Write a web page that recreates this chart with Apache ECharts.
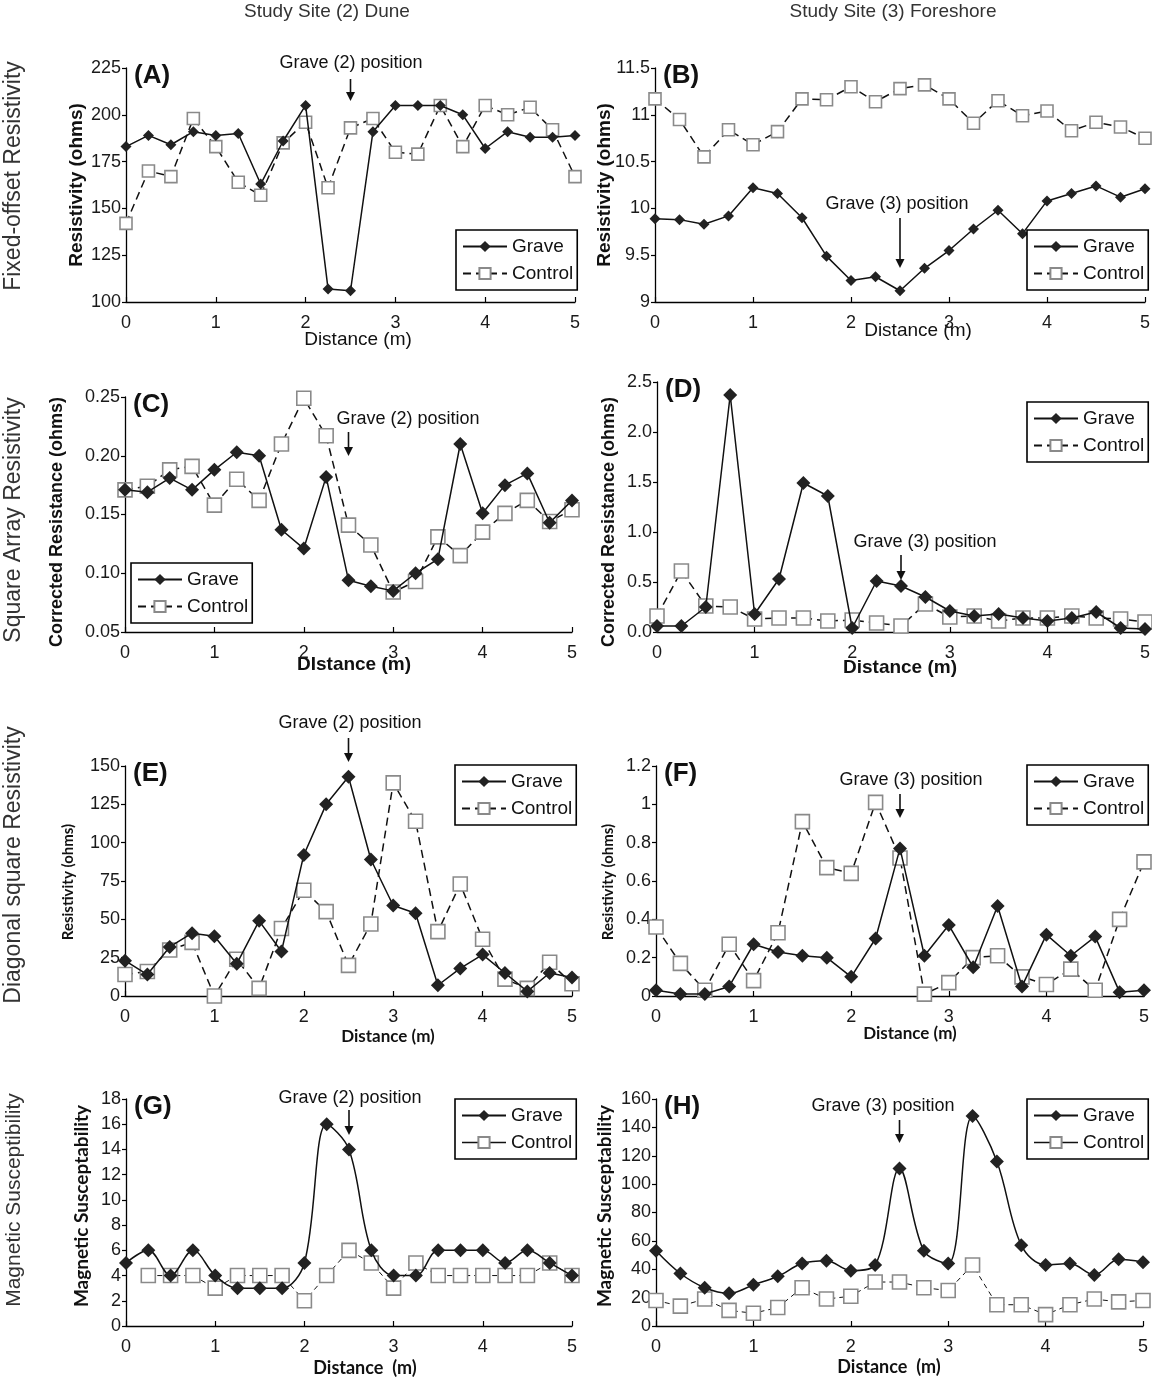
<!DOCTYPE html>
<html><head><meta charset="utf-8">
<script src="https://cdn.jsdelivr.net/npm/echarts@6/dist/echarts.min.js"></script>
<style>html,body{margin:0;padding:0;background:#fff}#c{width:1152px;height:1381px}</style>
</head><body><div id="c"></div>
<script>
// ---------- DATA ----------
const distance = [0,0.25,0.5,0.75,1,1.25,1.5,1.75,2,2.25,2.5,2.75,3,3.25,3.5,3.75,4,4.25,4.5,4.75,5];
const graveA = [183,189,184,191,189,190,163,186,205,107,106,191,205,205,205,200,182,191,188,188,189];
const controlA = [142,170,167,198,183,164,157,185,196,161,193,198,180,179,205,183,205,200,204,192,167];
const graveB = [9.89,9.88,9.83,9.92,10.22,10.16,9.90,9.49,9.23,9.27,9.12,9.36,9.55,9.78,9.98,9.73,10.08,10.16,10.24,10.12,10.21];
const controlB = [11.17,10.95,10.55,10.84,10.68,10.82,11.17,11.16,11.30,11.14,11.28,11.32,11.17,10.91,11.15,10.99,11.04,10.83,10.92,10.87,10.75];
const graveC = [0.171,0.169,0.181,0.171,0.188,0.203,0.200,0.137,0.121,0.182,0.094,0.089,0.085,0.100,0.112,0.210,0.151,0.175,0.185,0.143,0.162];
const controlC = [0.171,0.174,0.188,0.191,0.158,0.180,0.162,0.210,0.249,0.217,0.141,0.124,0.084,0.093,0.131,0.115,0.135,0.151,0.162,0.144,0.154];
const graveD = [0.06,0.06,0.25,2.37,0.18,0.53,1.49,1.36,0.04,0.51,0.46,0.35,0.21,0.16,0.18,0.14,0.11,0.14,0.20,0.04,0.03];
const controlD = [0.16,0.61,0.26,0.25,0.13,0.14,0.14,0.11,0.12,0.09,0.06,0.28,0.15,0.16,0.11,0.14,0.14,0.16,0.14,0.13,0.10];
const graveE = [23,14,32,41,39,21,49,29,92,125,143,89,59,54,7,18,27,15,3,15,12];
const controlE = [14,16,30,35,0,24,5,44,69,55,20,47,139,114,42,73,37,11,5,22,8];
const graveF = [0.03,0.01,0.01,0.05,0.27,0.23,0.21,0.20,0.10,0.30,0.77,0.21,0.37,0.15,0.47,0.05,0.32,0.21,0.31,0.02,0.03];
const controlF = [0.36,0.17,0.03,0.27,0.08,0.33,0.91,0.67,0.64,1.01,0.72,0.01,0.07,0.20,0.21,0.10,0.06,0.14,0.03,0.40,0.70];
const graveG = [5,6,4,6,4,3,3,3,5,16,14,6,4,4,6,6,6,5,6,5,4];
const controlG = [null,4,4,4,3,4,4,4,2,4,6,5,3,5,4,4,4,4,4,5,4];
const graveH = [53,37,27,23,29,35,44,46,39,43,111,53,44,148,116,57,43,44,36,47,45];
const controlH = [18,14,19,11,9,13,27,19,21,31,31,27,25,43,15,15,8,15,19,17,18];
const graveMarkerX = 2.5;
const columnTitles = ['Study Site (2) Dune', 'Study Site (3) Foreshore'];
const rowTitles = ['Fixed-offset Resistivity', 'Square Array Resistivity', 'Diagonal square Resistivity', 'Magnetic Susceptibility'];

// ---------- LAYOUT ----------
const ARIAL = '"Liberation Sans", Arial, sans-serif';
const CAL = 'Lato, "Liberation Sans", sans-serif';
const panels = [
  {lab:'(A)', g:graveA, c:controlA, grid:[126,68,449,234], y:[100,225,25], fmt:null,
   yt:{t:'Resistivity (ohms)', x:77, y:185, f:ARIAL, s:19}, xt:{t:'Distance (m)', x:358, y:340, f:ARIAL, s:19, w:'normal'},
   ann:{t:'Grave (2) position', x:351, y:63, a1:79, a2:101}, leg:[456,230], gs:11, cs:12},
  {lab:'(B)', g:graveB, c:controlB, grid:[655,68,490,234], y:[9,11.5,0.5], fmt:null,
   yt:{t:'Resistivity (ohms)', x:605, y:185, f:ARIAL, s:19}, xt:{t:'Distance (m)', x:918, y:331, f:ARIAL, s:19, w:'normal'},
   ann:{t:'Grave (3) position', x:897, y:204, a1:218, a2:268}, leg:[1027,230], gs:11, cs:12},
  {lab:'(C)', g:graveC, c:controlC, grid:[125,397,447,235], y:[0.05,0.25,0.05], fmt:2,
   yt:{t:'Corrected Resistance (ohms)', x:57, y:522, f:ARIAL, s:18}, xt:{t:'DIstance (m)', x:354, y:665, f:ARIAL, s:19, w:'bold'},
   ann:{t:'Grave (2) position', x:408, y:419, a1:432, a2:456}, leg:[131,563], gs:14, cs:14},
  {lab:'(D)', g:graveD, c:controlD, grid:[657,382,488,250], y:[0,2.5,0.5], fmt:1,
   yt:{t:'Corrected Resistance (ohms)', x:609, y:522, f:ARIAL, s:18}, xt:{t:'Distance (m)', x:900, y:668, f:ARIAL, s:19, w:'bold'},
   ann:{t:'Grave (3) position', x:925, y:542, a1:555, a2:580}, leg:[1027,402], gs:14, cs:14},
  {lab:'(E)', g:graveE, c:controlE, grid:[125,766,447,230], y:[0,150,25], fmt:null,
   yt:{t:'Resistivity (ohms)', x:68, y:882, f:CAL, s:15}, xt:{t:'Distance (m)', x:388, y:1037, f:CAL, s:17, w:'bold'},
   ann:{t:'Grave (2) position', x:350, y:723, a1:738, a2:762}, leg:[455,765], gs:14, cs:14},
  {lab:'(F)', g:graveF, c:controlF, grid:[656,766,488,230], y:[0,1.2,0.2], fmt:null,
   yt:{t:'Resistivity (ohms)', x:608, y:882, f:CAL, s:15}, xt:{t:'Distance (m)', x:910, y:1034, f:CAL, s:17, w:'bold'},
   ann:{t:'Grave (3) position', x:911, y:780, a1:794, a2:818}, leg:[1027,765], gs:14, cs:14},
  {lab:'(G)', g:graveG, c:controlG, grid:[126,1099,446,227], y:[0,18,2], fmt:null, smooth:true,
   yt:{t:'Magnetic Susceptability', x:82, y:1206, f:CAL, s:19}, xt:{t:'Distance  (m)', x:365, y:1368, f:CAL, s:18, w:'bold'},
   ann:{t:'Grave (2) position', x:350, y:1098, a1:1110, a2:1135}, leg:[455,1099], gs:14, cs:14},
  {lab:'(H)', g:graveH, c:controlH, grid:[656,1099,487,227], y:[0,160,20], fmt:null, smooth:true,
   yt:{t:'Magnetic Susceptability', x:605, y:1206, f:CAL, s:19}, xt:{t:'Distance  (m)', x:889, y:1367, f:CAL, s:18, w:'bold'},
   ann:{t:'Grave (3) position', x:883, y:1106, a1:1120, a2:1143}, leg:[1027,1099], gs:14, cs:14}
];

const chart = echarts.init(document.getElementById('c'), null, {renderer:'canvas'});
const grids = [], xAxes = [], yAxes = [], series = [], legends = [];
panels.forEach((p, i) => {
  grids.push({left:p.grid[0], top:p.grid[1], width:p.grid[2], height:p.grid[3], containLabel:false, outerBoundsMode:'none'});
  xAxes.push({gridIndex:i, type:'value', min:0, max:5, interval:1,
    axisLine:{show:true, onZero:false, lineStyle:{color:'#000', width:1.3}},
    axisTick:{show:true, inside:true, length:5, lineStyle:{color:'#000', width:1.2}},
    axisLabel:{fontSize:18, color:'#1a1a1a', fontFamily:ARIAL, margin:12, showMinLabel:true, showMaxLabel:true, hideOverlap:false},
    splitLine:{show:false}});
  yAxes.push({gridIndex:i, type:'value', min:p.y[0], max:p.y[1], interval:p.y[2],
    axisLine:{show:true, onZero:false, lineStyle:{color:'#000', width:1.3}},
    axisTick:{show:true, length:4, lineStyle:{color:'#000', width:1.2}},
    axisLabel:{fontSize:18, color:'#1a1a1a', fontFamily:ARIAL, margin:5, showMinLabel:true, showMaxLabel:true, hideOverlap:false,
      formatter: p.fmt == null ? (v => String(+v.toFixed(3))) : (v => v.toFixed(p.fmt))},
    splitLine:{show:false}});
  series.push({name:'Control', type:'line', xAxisIndex:i, yAxisIndex:i,
    data: distance.map((d,k) => [d, p.c[k]]), connectNulls:false,
    symbol:'rect', symbolSize:p.cs, showSymbol:true, showAllSymbol:true,
    itemStyle:{color:'#fff', borderColor:'#8a8a8a', borderWidth:1.6},
    lineStyle:{color:'#111', width: p.smooth ? 1 : 1.5, type: p.smooth ? [5,4] : [8,5]},
    z:2, animation:false, emphasis:{disabled:true}});
  series.push({name:'Grave', type:'line', xAxisIndex:i, yAxisIndex:i,
    data: distance.map((d,k) => [d, p.g[k]]),
    symbol:'diamond', symbolSize:p.gs, showSymbol:true, showAllSymbol:true,
    smooth: p.smooth ? 0.35 : false,
    itemStyle:{color:'#222'},
    lineStyle:{color:'#111', width:1.5},
    z:3, animation:false, emphasis:{disabled:true}});
  legends.push({left:p.leg[0], top:p.leg[1], orient:'vertical', selectedMode:false,
    data: p.smooth ? [{name:'Grave'}, {name:'Control', lineStyle:{type:'solid', width:1.5}}] : ['Grave','Control'],
    borderColor:'#000', borderWidth:1.6, borderRadius:0, padding:[7,4,7,6], backgroundColor:'#fff',
    itemWidth:44, itemHeight:14, itemGap:8,
    textStyle:{fontSize:19, color:'#111', fontFamily:ARIAL}});
});

chart.setOption({
  animation:false,
  backgroundColor:'#fff',
  grid:grids, xAxis:xAxes, yAxis:yAxes, series:series, legend:legends
});

// ---------- annotations ----------
const gfx = [];
columnTitles.forEach((t, k) => {
  gfx.push({type:'text', x: k === 0 ? 327 : 893, y:12, style:{text:t, font:'19px ' + ARIAL, fill:'#333', align:'center', verticalAlign:'middle'}});
});
const rowY = [176, 520, 865, 1200];
const rowS = [23, 23, 23, 21];
rowTitles.forEach((t, k) => {
  gfx.push({type:'text', x:14, y:rowY[k], rotation:Math.PI/2, style:{text:t, font:rowS[k] + 'px ' + ARIAL, fill:'#333', align:'center', verticalAlign:'middle'}});
});
panels.forEach((p, i) => {
  gfx.push({type:'text', x:p.grid[0] + 8, y:p.grid[1] + 8, style:{text:p.lab, font:'bold 26px ' + ARIAL, fill:'#111', align:'left', verticalAlign:'middle'}, z:10});
  gfx.push({type:'text', x:p.yt.x, y:p.yt.y, rotation:Math.PI/2, style:{text:p.yt.t, font:'bold ' + p.yt.s + 'px ' + p.yt.f, fill:'#111', align:'center', verticalAlign:'middle'}});
  gfx.push({type:'text', x:p.xt.x, y:p.xt.y, style:{text:p.xt.t, font:p.xt.w + ' ' + p.xt.s + 'px ' + p.xt.f, fill:'#111', align:'center', verticalAlign:'middle'}});
  gfx.push({type:'text', x:p.ann.x, y:p.ann.y, style:{text:p.ann.t, font:'18px ' + ARIAL, fill:'#111', align:'center', verticalAlign:'middle'}, z:10});
  const ax = chart.convertToPixel({xAxisIndex:i}, graveMarkerX);
  gfx.push({type:'line', shape:{x1:ax, y1:p.ann.a1, x2:ax, y2:p.ann.a2 - 6}, style:{stroke:'#111', lineWidth:1.6}, z:10});
  gfx.push({type:'polygon', shape:{points:[[ax-4.5, p.ann.a2-9],[ax+4.5, p.ann.a2-9],[ax, p.ann.a2]]}, style:{fill:'#111'}, z:10});
});
chart.setOption({graphic: gfx});
</script></body></html>
